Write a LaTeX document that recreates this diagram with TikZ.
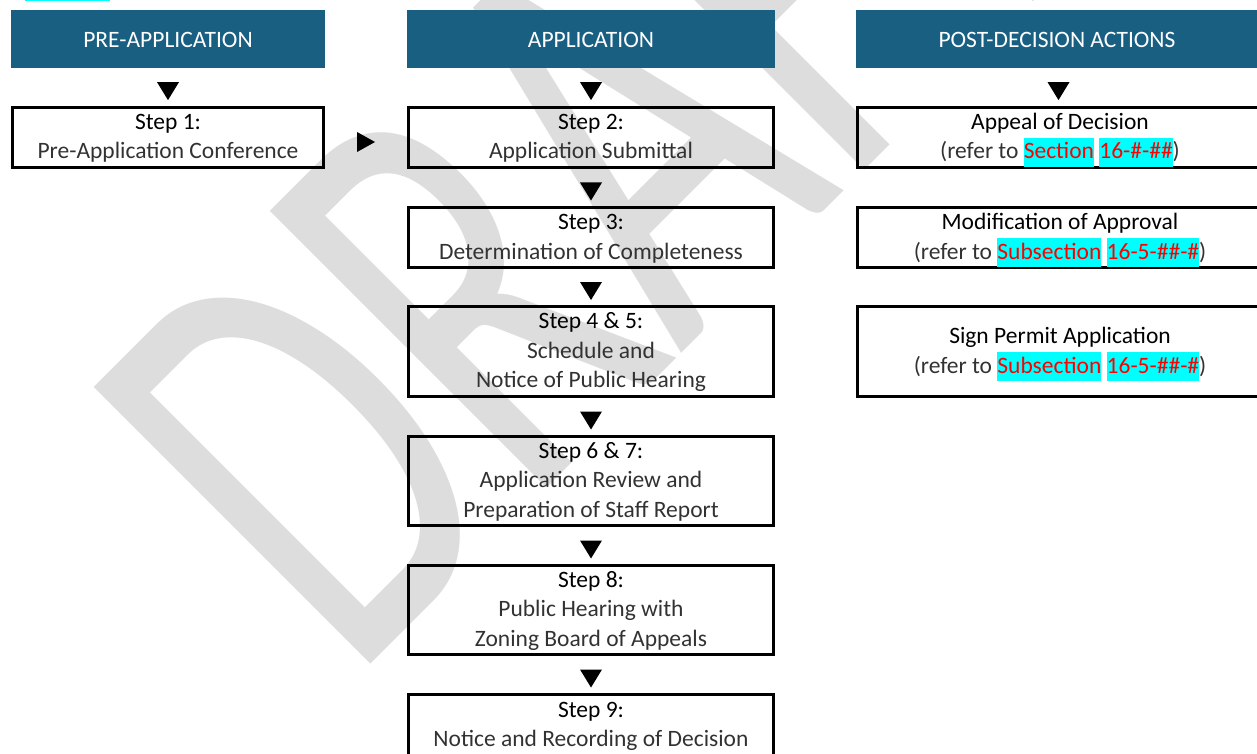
\documentclass[tikz,border=0pt]{standalone}
\usepackage{fontspec}
\setmainfont{Carlito}
\usetikzlibrary{calc}
\definecolor{hdrblue}{RGB}{24,95,130}
\definecolor{wmgray}{RGB}{221,221,221}
\definecolor{hlcyan}{RGB}{0,255,255}
\definecolor{refred}{RGB}{255,0,0}
\definecolor{subtext}{RGB}{50,50,50}
% struts that fix the first and last line of every box
\newcommand\topstrut{\rule{0pt}{21.5pt}}
\newcommand\botstrut{\rule[-8pt]{0pt}{8pt}}
% highlighted cross-reference placeholder
\newcommand\refhl[1]{{\setlength{\fboxsep}{0pt}\colorbox{hlcyan}{\rule[-8pt]{0pt}{29pt}\textcolor{refred}{#1}}}}
\newcommand\subline[1]{\textcolor{subtext}{#1}}
\begin{document}
\begin{tikzpicture}[x=1pt,y=-1pt,
  hdr/.style={fill=hdrblue, text=white, inner sep=0, minimum height=58pt,
    text height=17pt, text depth=0pt, font=\fontsize{23.5}{28}\selectfont},
  stepbox/.style={draw=black, line width=3pt, inner sep=0, align=center,
    font=\fontsize{23.5}{29.5}\selectfont},
  pics/dtri/.style={code={\fill (-11,-9) -- (11,-9) -- (0,9) -- cycle;}},
  pics/rtri/.style={code={\fill (-9,-10) -- (9,0) -- (-9,10) -- cycle;}},
]
\useasboundingbox (0,0) rectangle (1257,754);
\clip (0,0) rectangle (1257,754);

% watermark, condensed and set on the diagonal
\node[rotate=45, anchor=base west, inner sep=0, text=wmgray,
  font=\fontsize{610}{610}\selectfont] (wm) at (351,684) {\scalebox{0.66}[1]{DRAFT}};

% highlight strip at the top edge
\fill[hlcyan] (25,-1) rectangle (110,1.5);

% column headers
\node[hdr, minimum width=314pt] (h1) at (168,39) {PRE-APPLICATION};
\node[hdr, minimum width=368pt] (h2) at (591,39) {APPLICATION};
\node[hdr, minimum width=402pt] (h3) at (1057,39) {POST-DECISION ACTIONS};

% pre-application
\node[stepbox, minimum width=311pt, minimum height=60pt] (s1) at (168,137.5)
  {\topstrut Step 1:\\\subline{Pre-Application Conference}\botstrut};

% application steps
\node[stepbox, minimum width=365pt, minimum height=60pt] (s2) at (591,137.5)
  {\topstrut Step 2:\\\subline{Application Submittal}\botstrut};
\node[stepbox, minimum width=365pt, minimum height=60pt] (s3) at (591,237.5)
  {\topstrut Step 3:\\\subline{Determination of Completeness}\botstrut};
\node[stepbox, minimum width=365pt, minimum height=90pt] (s45) at (591,351.5)
  {\topstrut Step 4 \& 5:\\\subline{Schedule and}\\\subline{Notice of Public Hearing}\botstrut};
\node[stepbox, minimum width=365pt, minimum height=89pt] (s67) at (591,481)
  {\topstrut Step 6 \& 7:\\\subline{Application Review and}\\\subline{Preparation of Staff Report}\botstrut};
\node[stepbox, minimum width=365pt, minimum height=89pt] (s8) at (591,610)
  {\topstrut Step 8:\\\subline{Public Hearing with}\\\subline{Zoning Board of Appeals}\botstrut};
\node[stepbox, minimum width=365pt, minimum height=61pt] (s9) at (591,725)
  {\topstrut Step 9:\\\subline{Notice and Recording of Decision}\botstrut};

% post-decision actions
\node[stepbox, minimum width=405pt, minimum height=60pt] (p1) at (1060,137.5)
  {\topstrut Appeal of Decision\\\subline{(refer to \refhl{Section} \refhl{16-\#-\#\#})}\botstrut};
\node[stepbox, minimum width=405pt, minimum height=60pt] (p2) at (1060,237.5)
  {\topstrut Modification of Approval\\\subline{(refer to \refhl{Subsection} \refhl{16-5-\#\#-\#})}\botstrut};
\node[stepbox, minimum width=405pt, minimum height=90pt] (p3) at (1060,351.5)
  {\topstrut Sign Permit Application\\\subline{(refer to \refhl{Subsection} \refhl{16-5-\#\#-\#})}\botstrut};

% flow markers
\pic at ($(h1.south)!0.5!(s1.north)+(0,4)$) {dtri};
\pic at ($(h2.south)!0.5!(s2.north)+(0,4)$) {dtri};
\pic at ($(h3.south)!0.5!(p1.north)+(0,4)$) {dtri};
\pic at ($(s1.east)!0.5!(s2.west)+(0,4.5)$) {rtri};
\pic at ($(s2.south)!0.5!(s3.north)+(0,4)$) {dtri};
\pic at ($(s3.south)!0.5!(s45.north)+(0,4)$) {dtri};
\pic at ($(s45.south)!0.5!(s67.north)+(0,4)$) {dtri};
\pic at ($(s67.south)!0.5!(s8.north)+(0,4)$) {dtri};
\pic at ($(s8.south)!0.5!(s9.north)+(0,4)$) {dtri};
\end{tikzpicture}
\end{document}
